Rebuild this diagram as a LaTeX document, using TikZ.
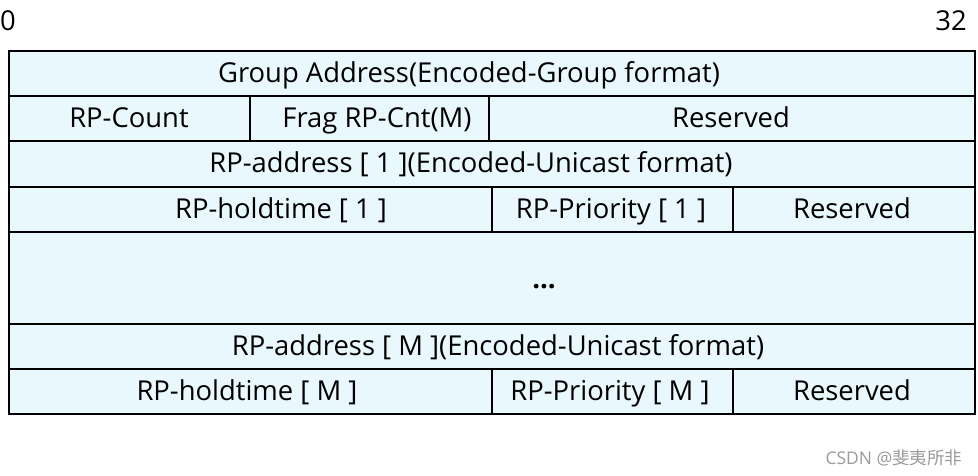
\documentclass[tikz,border=0pt]{standalone}
\usepackage{fontspec}
\setmainfont{Open Sans}
\newfontfamily\cjkfont{Noto Sans CJK SC}
\definecolor{cellfill}{HTML}{E8F8FD}
\definecolor{wmgray}{HTML}{9A9A9A}
\begin{document}
\begin{tikzpicture}[x=1pt,y=-1pt,
  cell/.style={draw=black,line width=1.8pt,fill=cellfill},
  lbl/.style={inner sep=0pt,text height=19pt,text depth=0pt,font=\fontsize{27.4}{30}\selectfont,text=black}]
\useasboundingbox (0,0) rectangle (978,476);
% rows
\draw[cell] (9,51) rectangle (975,96);
\draw[cell] (9,96) rectangle (250,141);
\draw[cell] (250,96) rectangle (489,141);
\draw[cell] (489,96) rectangle (975,141);
\draw[cell] (9,141) rectangle (975,187);
\draw[cell] (9,187) rectangle (492,232);
\draw[cell] (492,187) rectangle (733,232);
\draw[cell] (733,187) rectangle (975,232);
\draw[cell] (9,232) rectangle (975,324);
\draw[cell] (9,324) rectangle (975,369);
\draw[cell] (9,369) rectangle (492,414);
\draw[cell] (492,369) rectangle (733,414);
\draw[cell] (733,369) rectangle (975,414);
% labels
\node[lbl] (zero) at (8,21) {0};
\node[lbl] (tt) at (951,21) {32};
\node[lbl] (ga) at (469,73) {Group Address(Encoded-Group format)};
\node[lbl] (rc) at (129,118) {RP-Count};
\node[lbl] (fr) at (377,118) {Frag RP-Cnt(M)};
\node[lbl] (r1) at (731,118) {Reserved};
\node[lbl] (ra1) at (471,163) {RP-address [ 1 ](Encoded-Unicast format)};
\node[lbl] (rh1) at (281,209) {RP-holdtime [ 1 ]};
\node[lbl] (rp1) at (611,209) {RP-Priority [ 1 ]};
\node[lbl] (r2) at (852,209) {Reserved};
\node[lbl,font=\fontsize{27.4}{30}\selectfont\bfseries] (dots) at (544,279) {...};
\node[lbl] (ram) at (498,346) {RP-address [ M ](Encoded-Unicast format)};
\node[lbl] (rhm) at (247,391) {RP-holdtime [ M ]};
\node[lbl] (rpm) at (610,391) {RP-Priority [ M ]};
\node[lbl] (r3) at (852,391) {Reserved};
\node[inner sep=0pt,font=\fontsize{17.5}{20}\selectfont,text=wmgray] (wm) at (894,458) {CSDN @{\cjkfont 斐夷所非}};
\end{tikzpicture}
\end{document}
